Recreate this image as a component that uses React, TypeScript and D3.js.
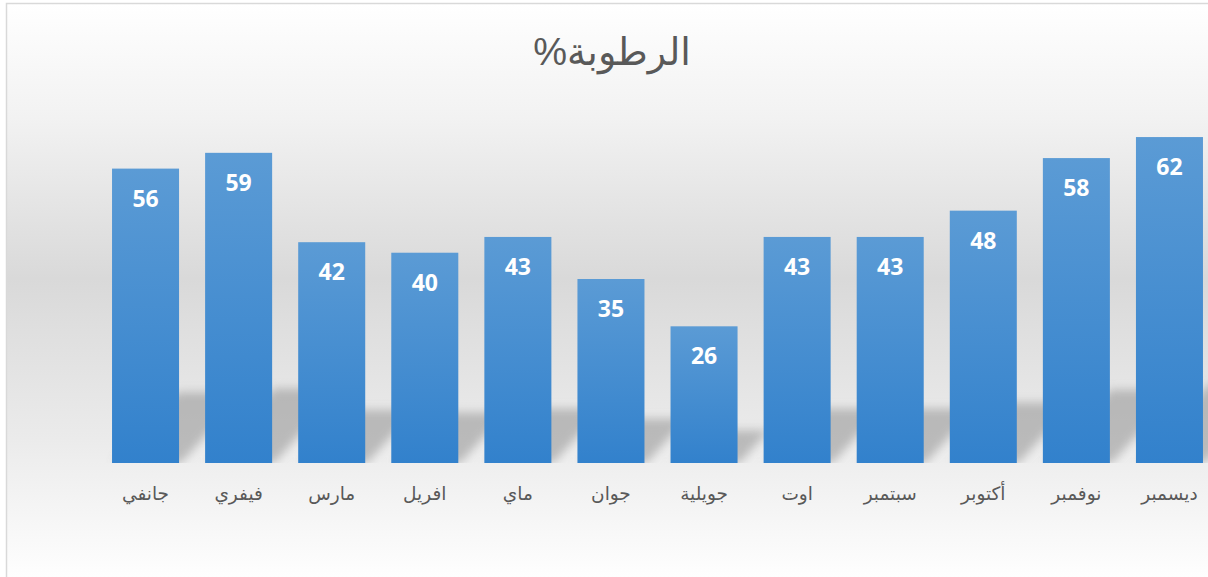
import React from "react";
import * as d3 from "d3";

const categories = ["جانفي", "فيفري", "مارس", "افريل", "ماي", "جوان", "جويلية", "اوت", "سبتمبر", "أكتوبر", "نوفمبر", "ديسمبر"];
const values = [56, 59, 42, 40, 43, 35, 26, 43, 43, 48, 58, 62];
const title = "الرطوبة%";

const W = 1208;
const H = 577;

export default function App() {
  const x = d3.scaleBand<string>().domain(categories).range([99, 1216]).paddingInner(0.28).paddingOuter(0.14);
  const y = d3.scaleLinear().domain([0, 70]).range([463, 95]);
  const base = y(0);
  return (
    <svg width={W} height={H} style={{ position: "absolute", left: 0, top: 0, display: "block" }}>
      <defs>
        <linearGradient id="bg" gradientUnits="userSpaceOnUse" x1="0" y1="3" x2="0" y2="577">
          <stop offset="0" stopColor="#ffffff" />
          <stop offset="0.2" stopColor="#f2f2f2" />
          <stop offset="0.48" stopColor="#d9d9d9" />
          <stop offset="0.76" stopColor="#ebebeb" />
          <stop offset="1" stopColor="#fefefe" />
        </linearGradient>
        <linearGradient id="bar" x1="0" y1="0" x2="0" y2="1">
          <stop offset="0" stopColor="#5b9bd5" />
          <stop offset="1" stopColor="#3281cc" />
        </linearGradient>
        <filter id="blur" x="-50%" y="-50%" width="200%" height="200%">
          <feGaussianBlur stdDeviation="5" />
        </filter>
        <clipPath id="aboveBase">
          <rect x={0} y={0} width={W} height={base} />
        </clipPath>
      </defs>
      <rect x={6.5} y={3.5} width={1300} height={700} fill="url(#bg)" stroke="#d9d9d9" strokeWidth={1.5} />
      <text x={612} y={65} textAnchor="middle" direction="rtl" fontSize={38} fill="#595959" fontFamily="Arial, 'Liberation Sans', 'DejaVu Sans', sans-serif">{title}</text>
      <g clipPath="url(#aboveBase)">
        <g filter="url(#blur)">
          {categories.map((c, i) => {
            const x0 = x(c)!;
            const x1 = x0 + x.bandwidth();
            const h = (base - y(values[i])) * 0.24;
            const dx = h * 0.9;
            const pts = [[x0 + 2, base], [x1 + 2, base], [x1 + 2 + dx, base - h], [x0 + 2 + dx, base - h]];
            return <polygon key={c} points={pts.map(p => p.join(",")).join(" ")} fill="#8a8a8a" opacity={0.5} />;
          })}
        </g>
      </g>
      {categories.map((c, i) => (
        <rect key={c} x={x(c)} y={y(values[i])} width={x.bandwidth()} height={base - y(values[i])} fill="url(#bar)" />
      ))}
      {categories.map((c, i) => (
        <text key={c} x={x(c)! + x.bandwidth() / 2} y={y(values[i]) + 38} textAnchor="middle" fontSize={23} fontWeight="bold" fill="#ffffff" fontFamily="'Open Sans', sans-serif">{values[i]}</text>
      ))}
      {categories.map((c) => (
        <text key={c} x={x(c)! + x.bandwidth() / 2} y={500} textAnchor="middle" fontSize={18.5} fill="#595959" fontFamily="Arial, 'Liberation Sans', 'DejaVu Sans', sans-serif">{c}</text>
      ))}
    </svg>
  );
}
